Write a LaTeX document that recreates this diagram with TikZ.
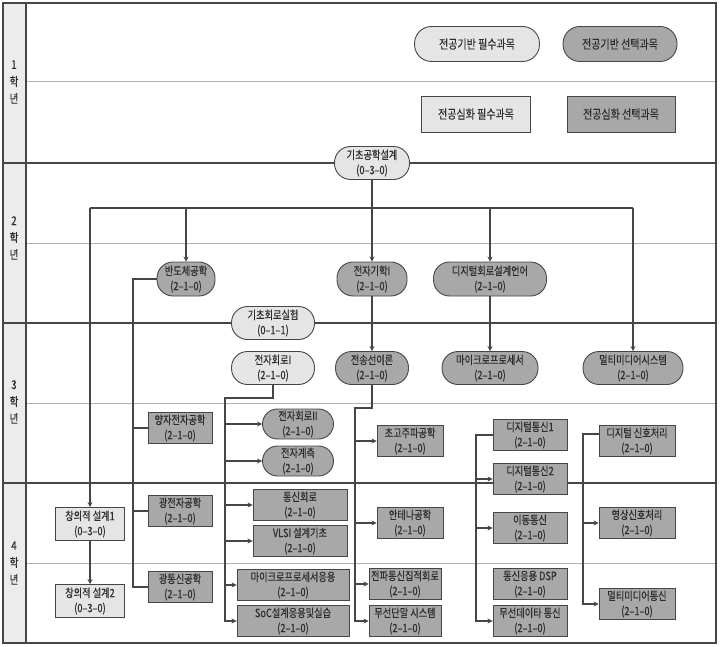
\documentclass[tikz,border=0pt]{standalone}
\usepackage{fontspec}
\setmainfont{Noto Sans CJK KR}[FakeStretch=0.8,FakeBold=0.4]
\usetikzlibrary{arrows.meta}
\definecolor{lightbox}{RGB}{229,229,229}
\definecolor{darkbox}{RGB}{168,168,168}
\definecolor{framegray}{RGB}{70,70,70}
\definecolor{rulegray}{RGB}{180,180,180}
\definecolor{sidegray}{RGB}{236,236,236}
\definecolor{linkgray}{RGB}{70,70,70}
\definecolor{textgray}{RGB}{45,45,45}

\begin{document}
\begin{tikzpicture}[x=1pt,y=-1pt,
  basic/.style={draw=framegray,line width=0.9pt,align=center,inner sep=0pt,
    text=textgray,font=\fontsize{11.5}{15}\selectfont},
  reqpill/.style={basic,fill=lightbox,rounded corners=16pt,minimum height=33pt},
  optpill/.style={basic,fill=darkbox,rounded corners=15pt,minimum height=31pt},
  reqbox/.style={basic,fill=lightbox,minimum height=33pt},
  optbox/.style={basic,fill=darkbox,minimum height=31pt},
  legend/.style={font=\fontsize{12.5}{15}\selectfont,minimum height=35pt},
  yearlbl/.style={align=center,text=textgray,font=\fontsize{12}{17}\selectfont},
  link/.style={linkgray,line width=1.1pt},
  arr/.style={link,-{Stealth[length=5pt,width=5pt]}},
]
\useasboundingbox (0,0) rectangle (720,647);

% Frame and year rows
\fill[sidegray] (3,3) rectangle (26,643);
\foreach \y in {82,243,403,563}
  \draw[rulegray,line width=1pt] (26,\y) -- (716,\y);
\foreach \y in {163,323,483}
  \draw[framegray,line width=1.2pt] (3,\y) -- (716,\y);
\draw[framegray,line width=1.2pt] (26,3) -- (26,643);
\draw[framegray,line width=1.2pt] (3,3) rectangle (716,643);

% Year labels
\foreach \n/\y in {1/82,2/238,3/402,4/563}
  \node[yearlbl] (year\n) at (14,\y) {\n\\학\\년};

% Legend
\node[reqpill,legend,rounded corners=17pt,minimum width=125pt] (leg1) at (477,44) {전공기반 필수과목};
\node[optpill,legend,rounded corners=17pt,minimum width=114pt] (leg2) at (620,44) {전공기반 선택과목};
\node[reqbox,legend,minimum width=109pt,minimum height=36pt] (leg3) at (476,114) {전공심화 필수과목};
\node[optbox,legend,minimum width=108pt,minimum height=36pt] (leg4) at (621,114) {전공심화 선택과목};

% Year 1-2 courses
\node[reqpill,minimum width=75pt] (eds) at (372,163) {기초공학설계\\(0--3--0)};
\node[optpill,minimum width=58pt,minimum height=34pt,rounded corners=16pt] (semi) at (186,279) {반도체공학\\(2--1--0)};
\node[optpill,minimum width=70pt,minimum height=34pt,rounded corners=16pt] (em1) at (372,279) {전자기학I\\(2--1--0)};
\node[optpill,minimum width=113pt,minimum height=34pt,rounded corners=16pt] (hdl) at (490,279) {디지털회로설계언어\\(2--1--0)};
\node[reqpill,minimum width=83pt] (bcl) at (273,323) {기초회로실험\\(0--1--1)};

% Year 3 courses
\node[reqpill,minimum width=83pt] (ec1) at (273,368) {전자회로I\\(2--1--0)};
\node[optpill,minimum width=73pt,minimum height=33pt,rounded corners=16pt] (tl) at (372,368) {전송선이론\\(2--1--0)};
\node[optpill,minimum width=96pt,minimum height=33pt,rounded corners=16pt] (mp) at (490,368) {마이크로프로세서\\(2--1--0)};
\node[optpill,minimum width=100pt,minimum height=33pt,rounded corners=16pt] (mms) at (633,368) {멀티미디어시스템\\(2--1--0)};

% Year 3-4 electives
\node[optbox,minimum width=64pt] (qe) at (180,428) {양자전자공학\\(2--1--0)};
\node[optbox,minimum width=64pt] (oe) at (180,511) {광전자공학\\(2--1--0)};
\node[optbox,minimum width=64pt] (oc) at (180,587) {광통신공학\\(2--1--0)};
\node[reqbox,minimum width=69pt] (cd1) at (90,524) {창의적 설계1\\(0--3--0)};
\node[reqbox,minimum width=69pt] (cd2) at (90,601) {창의적 설계2\\(0--3--0)};

\node[optpill,minimum width=71pt,minimum height=30pt] (ec2) at (298,424) {전자회로II\\(2--1--0)};
\node[optpill,minimum width=71pt,minimum height=30pt] (meas) at (298,461) {전자계측\\(2--1--0)};
\node[optbox,minimum width=94pt] (cc) at (300,505) {통신회로\\(2--1--0)};
\node[optbox,minimum width=94pt] (vlsi) at (300,541) {VLSI 설계기초\\(2--1--0)};
\node[optbox,minimum width=112pt] (mpa) at (293,585) {마이크로프로세서응용\\(2--1--0)};
\node[optbox,minimum width=112pt] (soc) at (293,621) {SoC설계응용및실습\\(2--1--0)};

\node[optbox,minimum width=66pt] (mw) at (410,441) {초고주파공학\\(2--1--0)};
\node[optbox,minimum width=66pt] (ant) at (410,523) {안테나공학\\(2--1--0)};
\node[optbox,minimum width=72pt] (rfic) at (405,584) {전파통신집적회로\\(2--1--0)};
\node[optbox,minimum width=72pt] (rts) at (405,621) {무선단말 시스템\\(2--1--0)};

\node[optbox,minimum width=74pt] (dc1) at (530,435) {디지털통신1\\(2--1--0)};
\node[optbox,minimum width=74pt] (dc2) at (530,479) {디지털통신2\\(2--1--0)};
\node[optbox,minimum width=74pt] (mob) at (530,528) {이동통신\\(2--1--0)};
\node[optbox,minimum width=74pt] (dsp) at (530,584) {통신응용 DSP\\(2--1--0)};
\node[optbox,minimum width=74pt] (wdc) at (530,621) {무선데이타 통신\\(2--1--0)};

\node[optbox,minimum width=76pt] (dsig) at (637,441) {디지털 신호처리\\(2--1--0)};
\node[optbox,minimum width=76pt] (isp) at (637,523) {영상신호처리\\(2--1--0)};
\node[optbox,minimum width=76pt] (mmc) at (637,604) {멀티미디어통신\\(2--1--0)};

% Trunk positions
\coordinate (busy) at (0,208);
\coordinate (t1) at (133,0);
\coordinate (t2) at (225,398);
\coordinate (t3) at (355,408);
\coordinate (t4) at (476,0);
\coordinate (t5) at (583,0);

% Links from 기초공학설계
\draw[link] (cd1 |- busy) -- (mms |- busy);
\draw[arr] (eds.south) -- (em1.north);
\foreach \n in {cd1,semi,hdl,mms}
  \draw[arr] (\n |- busy) -- (\n.north);
\draw[arr] (cd1.south) -- (cd2.north);
\draw[arr] (em1.south) -- (tl.north);
\draw[arr] (hdl.south) -- (mp.north);

% 반도체공학 branch
\draw[link] (semi.west) -- (semi.west -| t1) -- (t1 |- oc.west) -- (oc.west);
\draw[link] (qe.west -| t1) -- (qe.west);
\draw[link] (oe.west -| t1) -- (oe.west);

% 전자회로I branch
\draw[arr] (ec1.south) |- (t2) |- (soc.west);
\foreach \n in {ec2,meas,cc,vlsi,mpa}
  \draw[arr] (\n.west -| t2) -- (\n.west);

% 전송선이론 branch
\draw[arr] (tl.south) |- (t3) |- (rts.west);
\foreach \n in {mw,ant,rfic}
  \draw[arr] (\n.west -| t3) -- (\n.west);

% 디지털통신1 branch
\draw[arr] (dc1.west) -- (dc1.west -| t4) |- (wdc.west);
\foreach \n in {dc2,mob}
  \draw[arr] (\n.west -| t4) -- (\n.west);

% 디지털 신호처리 branch
\draw[arr] ([yshift=7pt]dsig.west) -- ([yshift=7pt]dsig.west -| t5) |- (mmc.west);
\draw[arr] (isp.west -| t5) -- (isp.west);
\end{tikzpicture}
\end{document}
